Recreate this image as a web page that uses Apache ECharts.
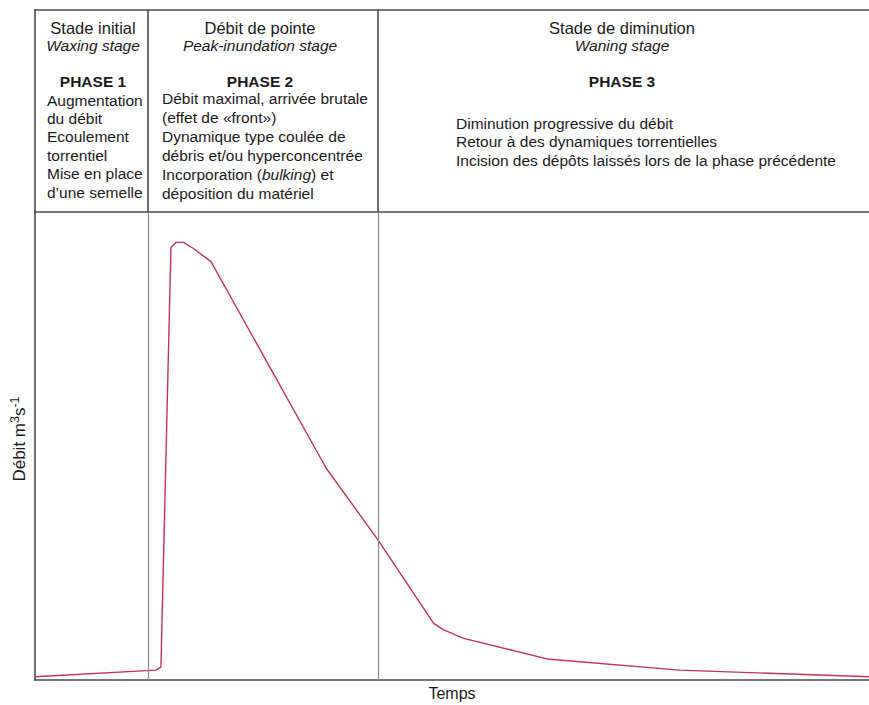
<!DOCTYPE html>
<html>
<head>
<meta charset="utf-8">
<script src="https://cdn.jsdelivr.net/npm/echarts@6/dist/echarts.min.js"></script>
<style>
  html, body { margin: 0; padding: 0; background: #ffffff; }
  #chart { width: 869px; height: 705px; }
</style>
</head>
<body>
<div id="chart"></div>
<script>
// ---- data (time and discharge in arbitrary units, 0-100) ----
const time = [0, 14.5, 15.1, 16.3, 16.9, 17.8, 19.0, 21.1, 34.9, 41.1, 47.8, 49.0, 51.4, 61.4, 77.3, 100];
const flow = [0.7, 2.1, 2.8, 92.4, 93.5, 93.5, 92.2, 89.4, 45.3, 30.0, 12.1, 10.7, 8.9, 4.5, 2.1, 0.7];
const phaseBounds = [13.55, 41.1];

const xAxisName = 'Temps';
const yAxisName = 'Débit m{sup|3}s{sup|-1}';

const phase1Title = ['Stade initial', 'Waxing stage', 'PHASE 1'];
const phase1Body = ['Augmentation', 'du débit', 'Ecoulement', 'torrentiel', 'Mise en place', 'd\u2019une semelle'];
const phase2Title = ['Débit de pointe', 'Peak-inundation stage', 'PHASE 2'];
const phase2Body = ['Débit maximal, arrivée brutale', '(effet de «front»)', 'Dynamique type coulée de',
                    'débris et/ou hyperconcentrée', 'Incorporation ({i|bulking}) et', 'déposition du matériel'];
const phase3Title = ['Stade de diminution', 'Waning stage', 'PHASE 3'];
const phase3Body = ['Diminution progressive du débit', 'Retour à des dynamiques torrentielles',
                    'Incision des dépôts laissés lors de la phase précédente'];

// ---- styling ----
const FONT = '"Liberation Sans", Arial, Helvetica, sans-serif';
const TXT = '#1a1a1a';
const DARK = '#4a4a4a';

function titleBlock(t, cx) {
  return [
    { type: 'text', x: cx, y: 28, style: { text: t[0], fontFamily: FONT, fontSize: 16.5, fill: TXT, align: 'center', verticalAlign: 'middle' } },
    { type: 'text', x: cx, y: 45, style: { text: t[1], fontFamily: FONT, fontSize: 15.5, fontStyle: 'italic', fill: TXT, align: 'center', verticalAlign: 'middle' } },
    { type: 'text', x: cx, y: 81, style: { text: t[2], fontFamily: FONT, fontSize: 15.5, fontWeight: 'bold', fill: TXT, align: 'center', verticalAlign: 'middle' } }
  ];
}
function bodyBlock(lines, x, y0, lh) {
  return lines.map((s, i) => ({
    type: 'text', x: x, y: y0 + i * lh,
    style: {
      text: s, fontFamily: FONT, fontSize: 15.5, fill: TXT, align: 'left', verticalAlign: 'middle',
      rich: { i: { fontStyle: 'italic', fontFamily: FONT, fontSize: 15.5, fill: TXT } }
    }
  }));
}

const chart = echarts.init(document.getElementById('chart'), null, { renderer: 'svg' });

const option = {
  animation: false,
  backgroundColor: '#ffffff',
  grid: [
    { left: 35, right: 0, top: 212, bottom: 25, outerBoundsMode: 'none', containLabel: false },
    { left: 35, right: 0, top: 10, height: 202, outerBoundsMode: 'none', containLabel: false }
  ],
  xAxis: [
    {
      type: 'value', gridIndex: 0, min: 0, max: 100,
      name: xAxisName, nameLocation: 'middle', nameGap: 5,
      nameTextStyle: { fontFamily: FONT, fontSize: 16, color: TXT },
      axisLine: { show: true, lineStyle: { color: DARK, width: 1.6 } },
      axisTick: { show: false }, axisLabel: { show: false }, splitLine: { show: false }
    },
    {
      type: 'value', gridIndex: 1, min: 0, max: 100, position: 'top',
      axisLine: { show: true, onZero: false, lineStyle: { color: DARK, width: 1.6 } },
      axisTick: { show: false }, axisLabel: { show: false }, splitLine: { show: false }
    },
    {
      type: 'value', gridIndex: 1, min: 0, max: 100, position: 'bottom',
      axisLine: { show: true, onZero: false, lineStyle: { color: DARK, width: 1.6 } },
      axisTick: { show: false }, axisLabel: { show: false }, splitLine: { show: false }
    }
  ],
  yAxis: [
    {
      type: 'value', gridIndex: 0, min: 0, max: 100,
      name: yAxisName, nameLocation: 'middle', nameGap: 4, nameRotate: 90,
      nameTextStyle: {
        fontFamily: FONT, fontSize: 17, color: TXT, lineHeight: 23, verticalAlign: 'bottom',
        padding: [0, 0, 0, 14],
        rich: { sup: { fontFamily: FONT, fontSize: 12.5, color: TXT, verticalAlign: 'top', lineHeight: 23 } }
      },
      axisLine: { show: true, lineStyle: { color: DARK, width: 1.6 } },
      axisTick: { show: false }, axisLabel: { show: false }, splitLine: { show: false }
    },
    {
      type: 'value', gridIndex: 1, min: 0, max: 1,
      axisLine: { show: true, onZero: false, lineStyle: { color: DARK, width: 1.6 } },
      axisTick: { show: false }, axisLabel: { show: false }, splitLine: { show: false }
    }
  ],
  series: [
    {
      type: 'line', xAxisIndex: 0, yAxisIndex: 0,
      data: time.map((t, i) => [t, flow[i]]),
      showSymbol: false, symbol: 'none', smooth: false,
      lineStyle: { color: '#c4334c', width: 1.4 },
      markLine: {
        silent: true, symbol: ['none', 'none'], label: { show: false },
        lineStyle: { type: 'solid', color: '#8c8c8c', width: 1.2 },
        data: phaseBounds.map(v => ({ xAxis: v }))
      },
      z: 3
    },
    {
      type: 'line', xAxisIndex: 1, yAxisIndex: 1, data: [],
      markLine: {
        silent: true, symbol: ['none', 'none'], label: { show: false },
        lineStyle: { type: 'solid', color: DARK, width: 1.6 },
        data: phaseBounds.map(v => ({ xAxis: v }))
      }
    }
  ],
  graphic: [].concat(
    titleBlock(phase1Title, 93),
    bodyBlock(phase1Body, 47, 100, 18.4),
    titleBlock(phase2Title, 260),
    bodyBlock(phase2Body, 162, 98, 19),
    titleBlock(phase3Title, 622),
    bodyBlock(phase3Body, 456, 123, 18.5)
  )
};

chart.setOption(option);
</script>
</body>
</html>
